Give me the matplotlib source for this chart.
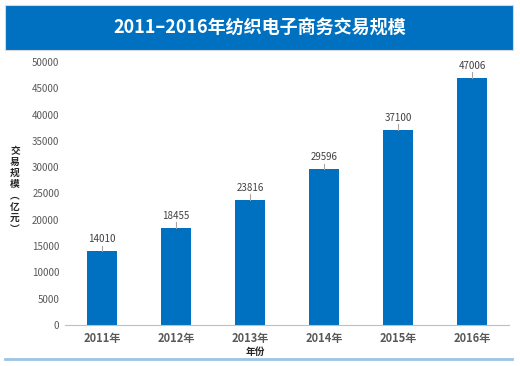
import matplotlib.pyplot as plt
from matplotlib.patches import Rectangle
from matplotlib.lines import Line2D

plt.rcParams['font.family'] = ['Noto Sans CJK SC', 'DejaVu Sans']

years = ['2011年', '2012年', '2013年', '2014年', '2015年', '2016年']
values = [14010, 18455, 23816, 29596, 37100, 47006]
yticks = list(range(0, 50001, 5000))

blue = '#0070C0'
gray = '#595959'

fig = plt.figure(figsize=(5.2, 3.66), dpi=100)

# title banner
fig.patches.append(Rectangle((5 / 520, 1 - 50 / 366), 508 / 520, 45 / 366,
                             transform=fig.transFigure, facecolor=blue,
                             edgecolor='#D9D9D9', linewidth=0.8))
fig.text(0.5, 1 - 28 / 366, '2011–2016年纺织电子商务交易规模', color='white',
         fontsize=13, fontweight='bold', ha='center', va='center')

# bottom accent line
fig.lines.append(Line2D([5 / 520, 512 / 520], [1 - 359 / 366] * 2,
                        transform=fig.transFigure, color='#9DC3E6', linewidth=2))

ax = fig.add_axes([65 / 520, 1 - 325 / 366, 444 / 520, 263 / 366])
x = range(len(years))
ax.bar(x, values, width=0.4, color=blue, zorder=2)
for xi, v in zip(x, values):
    ax.plot([xi, xi], [v, v + 1100], color='#A6A6A6', linewidth=0.8)
    ax.text(xi, v + 1300, str(v), ha='center', va='bottom', fontsize=7, color='#404040')

ax.set_xlim(-0.5, len(years) - 0.5)
ax.set_ylim(0, 50000)
ax.set_yticks(yticks)
ax.set_yticklabels([str(t) for t in yticks], fontsize=7, color=gray)
ax.set_xticks(list(x))
ax.set_xticklabels(years, fontsize=8, color=gray, fontweight='bold')
ax.tick_params(length=0, pad=4)
ax.tick_params(axis='x', pad=5)
for s in ['top', 'right', 'left']:
    ax.spines[s].set_visible(False)
ax.spines['bottom'].set_color('#BFBFBF')

fig.text(255 / 520, 1 - 352 / 366, '年份', fontsize=7, fontweight='bold',
         color='#262626', ha='center', va='center')
fig.text(15 / 520, 1 - 190 / 366, '交\n易\n规\n模\n︵\n亿\n元\n︶', fontsize=7,
         fontweight='bold', color='#262626', ha='center', va='center', linespacing=1.15)

fig.savefig('out.png', dpi=100)
